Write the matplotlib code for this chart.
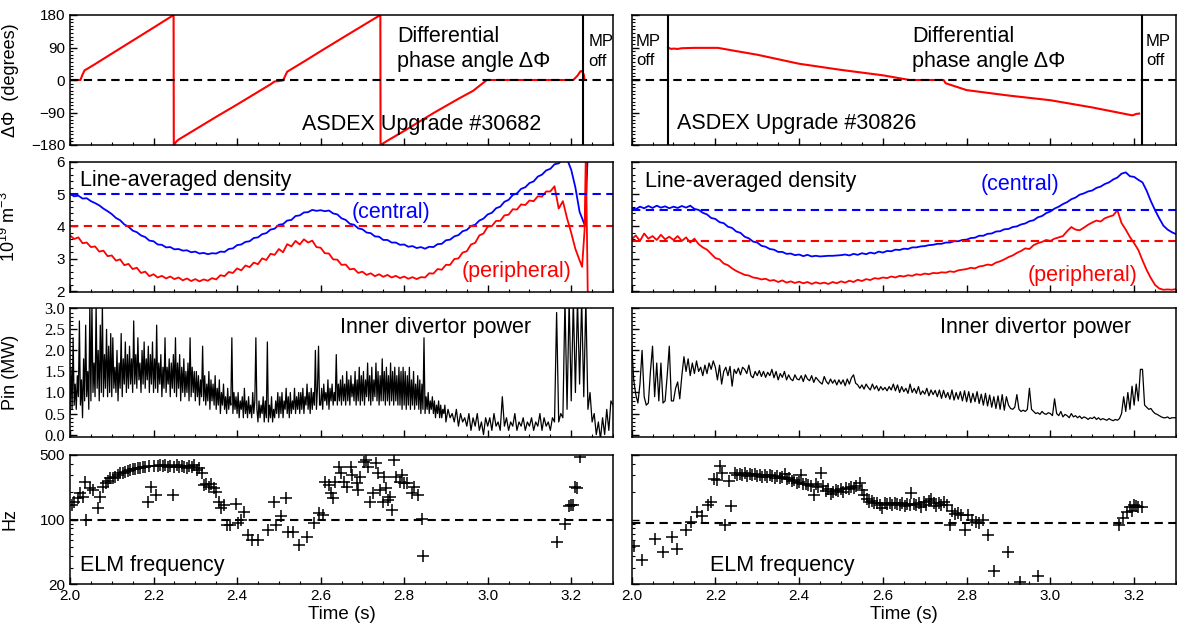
import numpy as np
import matplotlib
matplotlib.use('Agg')
import matplotlib.pyplot as plt
from matplotlib.ticker import MultipleLocator, LogLocator, NullFormatter, FixedLocator

plt.rcParams['font.family'] = ['Liberation Sans', 'DejaVu Sans']
plt.rcParams['mathtext.fontset'] = 'custom'
plt.rcParams['mathtext.rm'] = 'Liberation Sans'
plt.rcParams['xtick.direction'] = 'in'
plt.rcParams['ytick.direction'] = 'in'
plt.rcParams['axes.linewidth'] = 1.1

# ---- differential phase angle (degrees)
phase_l_t = [2.000, 2.025, 2.030, 2.035, 2.040, 2.060, 2.100, 2.150, 2.200, 2.248,
             2.2485, 2.255, 2.260, 2.300, 2.350, 2.400, 2.450, 2.480, 2.490, 2.500,
             2.510, 2.520, 2.560, 2.606, 2.650, 2.700, 2.743, 2.7435, 2.760, 2.800,
             2.871, 2.930, 2.965, 2.998, 3.100, 3.205, 3.215, 3.222, 3.226, 3.230,
             3.232]
phase_l_deg = [0, 0, 15, 27, 30, 44, 73, 109, 145, 180,
               -180, -170, -165, -137, -102, -68, -33, -12, -4, -3,
               -1, 23, 51, 84, 115, 150, 180, -180, -168, -141,
               -91, -52, -30, 0, 0, 0, 12, 24, 25, 15,
               0]
phase_r_t = [2.087, 2.090, 2.095, 2.100, 2.110, 2.120, 2.150, 2.206, 2.250, 2.300,
             2.400, 2.500, 2.600, 2.664, 2.700, 2.745, 2.750, 2.800, 2.900, 3.000,
             3.100, 3.196, 3.205, 3.212]
phase_r_deg = [90, 88, 86, 87, 86, 88, 89, 89, 80, 70,
               45, 28, 13, 0, 0, 0, -9, -28, -43, -56,
               -76, -98, -94, -93]
mp_off_l = [3.228]
mp_off_r = [2.087, 3.219]

# ---- line-averaged density (1e19 m^-3), 10 ms samples from 2.00 s
central_l = [5.00, 4.93, 4.95, 4.86, 4.87, 4.78, 4.72, 4.65, 4.55, 4.47,
             4.38, 4.26, 4.19, 4.06, 3.99, 3.87, 3.82, 3.72, 3.67, 3.56,
             3.54, 3.44, 3.43, 3.35, 3.36, 3.29, 3.30, 3.25, 3.26, 3.20,
             3.22, 3.16, 3.18, 3.14, 3.17, 3.16, 3.22, 3.21, 3.30, 3.32,
             3.42, 3.44, 3.52, 3.54, 3.64, 3.66, 3.76, 3.79, 3.90, 3.93,
             4.05, 4.07, 4.18, 4.20, 4.32, 4.34, 4.43, 4.44, 4.51, 4.48,
             4.50, 4.47, 4.49, 4.40, 4.37, 4.25, 4.20, 4.08, 4.05, 3.94,
             3.91, 3.81, 3.79, 3.69, 3.68, 3.58, 3.58, 3.50, 3.50, 3.43,
             3.44, 3.37, 3.39, 3.33, 3.36, 3.31, 3.37, 3.36, 3.45, 3.46,
             3.57, 3.59, 3.69, 3.73, 3.85, 3.89, 4.01, 4.05, 4.18, 4.24,
             4.37, 4.42, 4.56, 4.61, 4.76, 4.82, 4.97, 5.02, 5.16, 5.21,
             5.34, 5.39, 5.54, 5.60, 5.73, 5.78, 5.92, 5.95, 6.07, 6.08]
central_l_tail_t = [3.20, 3.21, 3.22, 3.233, 3.240]
central_l_tail = [5.75, 5.20, 4.45, 4.02, 6.40]

peripheral_l = [3.72, 3.61, 3.66, 3.48, 3.50, 3.36, 3.38, 3.22, 3.25, 3.08,
                3.10, 2.94, 2.98, 2.80, 2.84, 2.68, 2.72, 2.56, 2.60, 2.46,
                2.52, 2.42, 2.47, 2.39, 2.45, 2.37, 2.42, 2.33, 2.39, 2.31,
                2.37, 2.30, 2.36, 2.32, 2.40, 2.36, 2.49, 2.46, 2.59, 2.56,
                2.70, 2.64, 2.79, 2.74, 2.88, 2.83, 3.01, 2.96, 3.15, 3.12,
                3.30, 3.20, 3.45, 3.38, 3.55, 3.44, 3.60, 3.50, 3.56, 3.36,
                3.34, 3.17, 3.16, 2.98, 2.97, 2.81, 2.82, 2.67, 2.69, 2.56,
                2.60, 2.50, 2.55, 2.46, 2.52, 2.44, 2.50, 2.42, 2.47, 2.40,
                2.45, 2.38, 2.43, 2.37, 2.43, 2.42, 2.55, 2.54, 2.68, 2.66,
                2.81, 2.81, 2.99, 3.01, 3.19, 3.23, 3.44, 3.49, 3.72, 3.78,
                3.99, 4.01, 4.17, 4.17, 4.34, 4.36, 4.53, 4.52, 4.68, 4.66,
                4.80, 4.78, 4.93, 4.92, 5.08, 5.08, 5.24, 4.55, 4.78, 4.25]
peripheral_l_tail_t = [3.20, 3.21, 3.22, 3.226, 3.232, 3.235, 3.240]
peripheral_l_tail = [3.80, 3.30, 2.95, 2.75, 3.90, 6.30, 1.50]

central_r = [4.57, 4.53, 4.61, 4.56, 4.63, 4.57, 4.64, 4.58, 4.62, 4.56,
             4.61, 4.57, 4.63, 4.58, 4.64, 4.54, 4.51, 4.42, 4.37, 4.26,
             4.23, 4.13, 4.10, 3.99, 3.95, 3.84, 3.80, 3.68, 3.63, 3.53,
             3.50, 3.40, 3.37, 3.30, 3.28, 3.21, 3.21, 3.15, 3.16, 3.11,
             3.13, 3.08, 3.12, 3.07, 3.09, 3.07, 3.08, 3.09, 3.09, 3.10,
             3.11, 3.13, 3.10, 3.15, 3.12, 3.17, 3.14, 3.19, 3.16, 3.22,
             3.19, 3.24, 3.23, 3.28, 3.27, 3.31, 3.30, 3.35, 3.35, 3.38,
             3.39, 3.42, 3.43, 3.46, 3.46, 3.50, 3.50, 3.54, 3.54, 3.58,
             3.59, 3.64, 3.65, 3.71, 3.71, 3.77, 3.78, 3.84, 3.85, 3.91,
             3.92, 3.98, 4.00, 4.06, 4.09, 4.16, 4.19, 4.28, 4.32, 4.41,
             4.46, 4.55, 4.61, 4.69, 4.75, 4.84, 4.89, 4.98, 5.02, 5.08,
             5.11, 5.19, 5.23, 5.31, 5.36, 5.45, 5.51, 5.63, 5.67, 5.55,
             5.53, 5.44, 5.36, 5.10, 4.78, 4.50, 4.25, 4.02, 3.90, 3.82,
             3.76]
peripheral_r = [3.60, 3.72, 3.55, 3.78, 3.62, 3.70, 3.58, 3.74, 3.60, 3.68,
                3.58, 3.70, 3.55, 3.66, 3.50, 3.62, 3.45, 3.35, 3.28, 3.15,
                3.02, 2.98, 2.85, 2.80, 2.70, 2.62, 2.56, 2.50, 2.48, 2.42,
                2.40, 2.36, 2.38, 2.32, 2.34, 2.28, 2.33, 2.26, 2.30, 2.25,
                2.29, 2.24, 2.28, 2.22, 2.27, 2.23, 2.26, 2.22, 2.28, 2.24,
                2.30, 2.26, 2.32, 2.28, 2.35, 2.31, 2.37, 2.34, 2.40, 2.38,
                2.42, 2.40, 2.45, 2.42, 2.47, 2.45, 2.49, 2.47, 2.52, 2.50,
                2.54, 2.52, 2.56, 2.55, 2.58, 2.57, 2.61, 2.59, 2.64, 2.66,
                2.68, 2.72, 2.70, 2.76, 2.78, 2.82, 2.80, 2.88, 2.92, 2.98,
                3.05, 3.10, 3.18, 3.24, 3.32, 3.30, 3.42, 3.48, 3.52, 3.58,
                3.55, 3.62, 3.66, 3.70, 3.85, 3.98, 3.90, 3.88, 3.96, 4.05,
                4.12, 4.18, 4.15, 4.25, 4.30, 4.34, 4.50, 4.10, 3.90, 3.67,
                3.48, 3.27, 2.95, 2.65, 2.40, 2.19, 2.08, 2.04, 2.05, 2.04,
                2.06]
central_ref_l, peripheral_ref_l = 5.0, 4.0
central_ref_r, peripheral_ref_r = 4.52, 3.55

# ---- inner divertor power (MW)
# shot 30682: 2.5 ms samples 2.000-2.8975 s, then 5 ms samples 2.900-3.300 s
power_l_early = [
    0.5, 1.6, 0.6, 2.3, 0.7, 1.2, 0.6, 1.4, 0.9, 2.7, 0.7, 1.3, 0.4, 1.8, 0.8, 2.6, 0.9, 1.5, 0.6, 3.1,
    0.8, 3.1, 1.0, 1.7, 0.9, 3.1, 1.1, 2.0, 0.8, 2.6, 1.0, 3.1, 0.9, 1.9, 1.1, 2.5, 0.9, 2.1, 1.0, 2.4,
    0.9, 2.3, 1.1, 1.6, 1.0, 2.0, 0.8, 1.7, 1.1, 2.4, 0.9, 1.8, 1.2, 2.2, 1.0, 1.9, 1.1, 2.1, 1.2, 1.8,
    1.0, 2.7, 1.2, 1.9, 1.1, 2.3, 1.3, 1.7, 1.0, 2.0, 1.2, 2.2, 1.1, 1.8, 1.3, 2.1, 1.0, 1.9, 1.2, 2.2,
    1.0, 1.8, 1.1, 2.6, 1.0, 1.7, 1.2, 1.9, 0.9, 1.6, 1.1, 2.3, 1.0, 1.6, 1.2, 1.8, 0.9, 1.7, 1.1, 1.9,
    1.0, 2.3, 0.9, 1.7, 1.1, 1.9, 0.8, 1.6, 1.0, 1.8, 0.9, 1.5, 1.0, 1.7, 0.8, 2.3, 0.9, 1.6, 1.0, 1.5,
    0.8, 1.5, 0.9, 1.4, 0.7, 1.3, 0.9, 2.1, 0.8, 1.4, 0.7, 1.2, 0.8, 1.5, 0.6, 1.3, 0.8, 1.2, 0.7, 1.4,
    0.6, 1.1, 0.7, 1.3, 0.5, 1.0, 0.7, 1.2, 0.6, 0.9, 0.5, 1.1, 0.6, 0.9, 0.7, 2.3, 0.5, 1.0, 0.6, 0.9,
    0.5, 1.0, 0.4, 0.8, 0.6, 0.9, 0.4, 1.1, 0.5, 0.8, 0.4, 0.9, 0.5, 0.7, 0.4, 1.0, 0.5, 0.8, 2.3, 0.6,
    0.3, 0.8, 0.4, 0.7, 0.5, 0.9, 0.3, 0.8, 0.4, 2.2, 0.3, 0.7, 0.4, 0.9, 0.3, 0.6, 0.4, 0.8, 0.5, 1.0,
    0.4, 0.9, 0.5, 1.0, 0.4, 0.8, 0.6, 1.1, 0.5, 0.9, 0.4, 1.0, 0.5, 0.8, 0.6, 1.1, 0.5, 0.9, 0.6, 1.0,
    0.5, 1.0, 0.6, 1.1, 0.5, 0.9, 0.7, 1.2, 0.6, 1.0, 0.5, 1.1, 0.6, 1.0, 0.7, 2.0, 0.6, 1.1, 2.1, 0.7,
    0.7, 1.1, 0.6, 1.2, 0.8, 1.0, 0.7, 1.3, 0.6, 1.1, 0.8, 1.2, 0.7, 1.0, 0.8, 1.9, 0.7, 1.2, 0.8, 1.3,
    0.7, 1.4, 0.8, 1.2, 0.7, 1.5, 0.8, 1.3, 0.7, 1.4, 0.9, 1.2, 0.8, 1.5, 0.7, 1.3, 0.8, 1.6, 0.7, 1.4,
    0.8, 1.5, 0.7, 1.3, 0.9, 1.7, 0.8, 1.4, 0.7, 1.6, 0.8, 1.3, 0.9, 1.7, 0.8, 1.5, 0.7, 1.4, 0.8, 1.8,
    0.8, 1.5, 0.7, 1.6, 0.8, 1.4, 0.7, 1.7, 0.8, 1.5, 0.7, 1.6, 0.8, 1.4, 0.7, 1.6, 0.7, 1.5, 0.6, 1.6,
    0.7, 1.5, 0.6, 1.4, 0.7, 1.6, 0.6, 1.3, 0.7, 1.5, 0.6, 1.2, 0.7, 1.4, 0.6, 1.3, 0.5, 1.2, 0.6, 2.3,
    0.5, 0.9, 0.6, 1.0, 0.5, 0.8, 0.6, 0.9, 0.5, 0.8, 0.4, 0.7, 0.5, 0.8, 0.4, 0.7, 0.4, 0.6, 0.5, 0.7]
power_l_late = [
    0.3, 0.6, 0.4, 0.5, 0.3, 0.6, 0.2, 0.5, 0.3, 0.4, 0.2, 0.5, 0.1, 0.4, 0.2, 0.5, 0.1, 0.3, 0.0, 0.4,
    0.2, 0.4, 0.1, 0.5, 0.2, 0.3, 0.1, 0.9, 0.2, 0.4, 0.1, 0.3, 0.2, 0.5, 0.1, 0.3, 0.2, 0.4, 0.1, 0.3,
    0.2, 0.4, 0.1, 0.3, 0.2, 0.5, 0.1, 0.4, 0.2, 0.3, 0.1, 0.4, 0.3, 2.9, 0.3, 0.5, 0.4, 3.2, 0.6, 3.2,
    0.8, 3.2, 1.0, 3.2, 1.2, 3.2, 0.9, 3.2, 0.6, 1.0, 0.3, 0.5, 0.0, 0.3, -0.1, 0.4, 0.0, 0.6, 0.1, 0.8,
    0.7]
# shot 30826: 5 ms samples 2.000-3.300 s
power_r = [2.2, 1.3, 0.95, 0.75, 1.2, 2.0, 0.9, 0.7, 0.75, 1.5, 2.1, 0.9, 1.7, 0.8, 1.7, 0.75, 0.8, 1.4, 2.1, 0.8,
           0.8, 1.1, 1.25, 0.85, 1.4, 1.85, 1.5, 1.8, 1.4, 1.7, 1.45, 1.75, 1.5, 1.6, 1.4, 1.65, 1.45, 1.7, 1.55, 1.75,
           1.6, 1.3, 1.65, 1.2, 1.5, 1.6, 1.4, 1.62, 1.15, 1.55, 1.45, 1.58, 1.42, 1.6, 1.55, 1.45, 1.65, 1.4, 1.35, 1.5,
           1.4, 1.52, 1.38, 1.5, 1.36, 1.48, 1.4, 1.55, 1.35, 1.5, 1.3, 1.45, 1.36, 1.5, 1.3, 1.42, 1.32, 1.28, 1.42, 1.32,
           1.3, 1.4, 1.26, 1.42, 1.32, 1.28, 1.4, 1.24, 1.36, 1.3, 1.24, 1.2, 1.38, 1.26, 1.2, 1.32, 1.22, 1.3, 1.18, 1.3,
           1.2, 1.3, 1.16, 1.32, 1.2, 1.35, 1.42, 1.22, 1.18, 1.1, 1.18, 1.08, 1.2, 1.12, 1.06, 1.2, 1.08, 1.16, 1.04, 1.14,
           1.06, 1.12, 1.04, 1.14, 1.06, 1.2, 1.04, 1.18, 1.0, 1.14, 1.02, 1.1, 0.98, 1.2, 1.0, 1.1, 0.98, 1.14, 0.95, 1.04,
           0.96, 1.1, 0.92, 1.06, 0.95, 1.05, 0.9, 1.06, 0.86, 1.05, 0.88, 1.0, 0.84, 1.06, 0.82, 1.0, 0.84, 1.02, 0.8, 1.04,
           0.78, 1.02, 0.76, 0.98, 0.78, 1.02, 0.74, 0.96, 0.7, 0.98, 0.68, 0.94, 0.65, 0.9, 0.62, 0.92, 0.6, 0.95, 0.58, 0.9,
           0.7, 0.62, 0.6, 0.65, 0.95, 0.6, 0.55, 0.58, 0.55, 0.6, 1.1, 0.6, 0.55, 0.5, 0.52, 0.48, 0.55, 0.5, 0.48, 0.52,
           0.5, 0.45, 0.85, 0.5, 0.45, 0.55, 0.42, 0.48, 0.45, 0.4, 0.5, 0.42, 0.45, 0.4, 0.44, 0.38, 0.42, 0.4, 0.36, 0.4,
           0.38, 0.42, 0.36, 0.4, 0.35, 0.38, 0.36, 0.34, 0.38, 0.35, 0.33, 0.36, 0.34, 0.38, 0.5, 0.9, 0.55, 1.0, 0.6, 1.15,
           0.7, 1.2, 0.8, 1.55, 1.55, 0.7, 0.65, 0.6, 0.62, 0.55, 0.5, 0.48, 0.45, 0.42, 0.4, 0.4, 0.42, 0.38, 0.4, 0.4,
           0.4]

# ---- ELM frequency (Hz)
elm_l_t = [2.005, 2.010, 2.018, 2.025, 2.030, 2.035, 2.038, 2.048, 2.055, 2.066,
           2.072, 2.078, 2.085, 2.090, 2.096, 2.102, 2.108, 2.115, 2.120, 2.126,
           2.132, 2.138, 2.144, 2.150, 2.156, 2.162, 2.168, 2.174, 2.180, 2.186,
           2.190, 2.195, 2.200, 2.205, 2.210, 2.216, 2.222, 2.228, 2.234, 2.240,
           2.246, 2.250, 2.256, 2.262, 2.268, 2.274, 2.280, 2.286, 2.292, 2.298,
           2.304, 2.310, 2.316, 2.320, 2.326, 2.332, 2.338, 2.344, 2.350, 2.356,
           2.362, 2.368, 2.375, 2.384, 2.398, 2.403, 2.410, 2.417, 2.425, 2.436,
           2.450, 2.474, 2.488, 2.492, 2.504, 2.516, 2.521, 2.535, 2.549, 2.568,
           2.584, 2.596, 2.606, 2.610, 2.620, 2.625, 2.630, 2.634, 2.643, 2.648,
           2.657, 2.662, 2.672, 2.676, 2.686, 2.690, 2.695, 2.705, 2.709, 2.714,
           2.719, 2.726, 2.733, 2.738, 2.742, 2.749, 2.752, 2.757, 2.761, 2.766,
           2.771, 2.775, 2.780, 2.790, 2.794, 2.799, 2.808, 2.818, 2.823, 2.832,
           2.842, 2.846, 3.165, 3.185, 3.195, 3.200, 3.210, 3.215, 3.220, 3.205]
elm_l_hz = [143, 156, 170, 192, 175, 257, 98, 218, 209, 132,
            177, 227, 246, 262, 279, 285, 291, 305, 316, 322,
            330, 338, 344, 350, 355, 359, 365, 368, 374, 156,
            378, 227, 383, 184, 380, 389, 376, 385, 372, 380,
            184, 374, 385, 368, 380, 372, 359, 378, 374, 389,
            344, 360, 316, 237, 245, 227, 240, 218, 200, 156,
            132, 143, 87, 87, 149, 91, 98, 122, 68, 60,
            60, 77, 156, 87, 109, 170, 74, 74, 53, 65,
            91, 117, 112, 257, 237, 192, 170, 257, 374, 316,
            257, 227, 374, 304, 246, 209, 291, 424, 441, 374,
            156, 192, 406, 316, 209, 156, 291, 218, 163, 177,
            127, 441, 291, 257, 304, 246, 246, 192, 227, 184,
            102, 40, 57, 90, 140, 145, 225, 220, 470, 142]
elm_r_t = [2.006, 2.026, 2.055, 2.074, 2.096, 2.109, 2.131, 2.143, 2.155, 2.169,
           2.182, 2.190, 2.197, 2.204, 2.210, 2.215, 2.222, 2.233, 2.238, 2.246,
           2.252, 2.258, 2.264, 2.270, 2.276, 2.282, 2.288, 2.294, 2.300, 2.306,
           2.312, 2.318, 2.324, 2.330, 2.336, 2.342, 2.348, 2.354, 2.360, 2.366,
           2.370, 2.376, 2.382, 2.388, 2.394, 2.400, 2.404, 2.410, 2.416, 2.422,
           2.428, 2.435, 2.440, 2.446, 2.452, 2.458, 2.464, 2.470, 2.476, 2.482,
           2.488, 2.494, 2.500, 2.506, 2.512, 2.518, 2.524, 2.530, 2.536, 2.545,
           2.550, 2.556, 2.562, 2.568, 2.574, 2.580, 2.586, 2.592, 2.598, 2.604,
           2.610, 2.616, 2.622, 2.628, 2.634, 2.640, 2.646, 2.652, 2.658, 2.664,
           2.668, 2.674, 2.680, 2.686, 2.692, 2.698, 2.704, 2.710, 2.716, 2.722,
           2.728, 2.734, 2.740, 2.747, 2.752, 2.760, 2.766, 2.773, 2.780, 2.787,
           2.795, 2.804, 2.812, 2.822, 2.830, 2.839, 2.852, 2.866, 2.900, 2.927,
           2.971, 3.165, 3.174, 3.182, 3.191, 3.200, 3.210, 3.218, 3.195, 3.205]
elm_r_hz = [52, 36, 61, 45, 64, 48, 76, 95, 122, 109,
            144, 156, 274, 268, 380, 322, 87, 264, 140, 316,
            300, 315, 305, 320, 298, 310, 302, 315, 296, 305,
            292, 300, 288, 302, 295, 285, 298, 282, 290, 310,
            275, 285, 262, 270, 250, 255, 304, 245, 240, 235,
            230, 184, 240, 225, 316, 228, 205, 215, 190, 200,
            210, 205, 215, 200, 220, 212, 225, 218, 230, 246,
            210, 185, 165, 155, 160, 150, 152, 145, 132, 150,
            148, 152, 145, 150, 146, 143, 150, 140, 147, 145,
            192, 148, 142, 150, 138, 155, 145, 160, 166, 150,
            140, 152, 145, 156, 142, 87, 125, 116, 118, 112,
            77, 112, 100, 95, 91, 99, 68, 28, 44, 21,
            24.5, 87, 103, 122, 138, 144, 138, 135, 125, 140]
elm_ref_l, elm_ref_r = 100, 92

t10_l = 2.0 + 0.01 * np.arange(len(central_l))
t10_r = 2.0 + 0.01 * np.arange(len(central_r))
t_pl = np.r_[2.0 + 0.0025 * np.arange(len(power_l_early)), 2.9 + 0.005 * np.arange(len(power_l_late))]
t_pr = 2.0 + 0.005 * np.arange(len(power_r))

fig = plt.figure(figsize=(11.77, 6.33), dpi=100)
W, H = 1177.0, 633.0
cols = [(70, 613), (631.6, 1176)]
rows = [(15, 145), (161.7, 291.7), (308.3, 436.7), (455, 584)]
ax = [[fig.add_axes([x0 / W, 1 - y1 / H, (x1 - x0) / W, (y1 - y0) / H]) for (x0, x1) in cols]
      for (y0, y1) in rows]

dash = (0, (4, 2.6))
big = 15.5

for i in range(4):
    for j in range(2):
        a = ax[i][j]
        a.set_xlim(2.0, 3.3)
        a.xaxis.set_major_locator(MultipleLocator(0.2))
        a.xaxis.set_minor_locator(MultipleLocator(0.05))
        a.tick_params(which='major', length=5, width=1, labelsize=11)
        a.tick_params(which='minor', length=2.5, width=0.8)
        a.tick_params(labelbottom=(i == 3), labelleft=(j == 0))

# row 1: phase
for j, (tt, dd, lines) in enumerate([(phase_l_t, phase_l_deg, mp_off_l), (phase_r_t, phase_r_deg, mp_off_r)]):
    a = ax[0][j]
    a.plot(tt, dd, color='red', lw=1.5)
    a.axhline(0, color='k', ls=dash, lw=1.5)
    for x in lines:
        a.axvline(x, color='k', lw=1.5)
    a.set_ylim(-180, 180)
    a.set_yticks([-180, -90, 0, 90, 180])
    a.yaxis.set_minor_locator(MultipleLocator(10))
ax[0][0].set_ylabel('ΔΦ  (degrees)', fontsize=13)
ax[0][0].text(0.602, 0.833, 'Differential', transform=ax[0][0].transAxes, fontsize=big, va='center')
ax[0][0].text(0.602, 0.641, 'phase angle ΔΦ', transform=ax[0][0].transAxes, fontsize=big, va='center')
ax[0][0].text(0.427, 0.154, 'ASDEX Upgrade #30682', transform=ax[0][0].transAxes, fontsize=big, va='center')
ax[0][0].text(0.955, 0.795, 'MP', transform=ax[0][0].transAxes, fontsize=12, va='center')
ax[0][0].text(0.955, 0.641, 'off', transform=ax[0][0].transAxes, fontsize=12, va='center')
ax[0][1].text(0.515, 0.833, 'Differential', transform=ax[0][1].transAxes, fontsize=big, va='center')
ax[0][1].text(0.515, 0.641, 'phase angle ΔΦ', transform=ax[0][1].transAxes, fontsize=big, va='center')
ax[0][1].text(0.083, 0.165, 'ASDEX Upgrade #30826', transform=ax[0][1].transAxes, fontsize=big, va='center')
for x0 in (0.008, 0.945):
    ax[0][1].text(x0, 0.795, 'MP', transform=ax[0][1].transAxes, fontsize=12, va='center')
    ax[0][1].text(x0, 0.650, 'off', transform=ax[0][1].transAxes, fontsize=12, va='center')

# row 2: density
a = ax[1][0]
a.plot(np.r_[t10_l, central_l_tail_t], central_l + central_l_tail, color='blue', lw=1.3)
a.plot(np.r_[t10_l, peripheral_l_tail_t], peripheral_l + peripheral_l_tail, color='red', lw=1.3)
a.axhline(central_ref_l, color='blue', ls=dash, lw=1.5)
a.axhline(peripheral_ref_l, color='red', ls=dash, lw=1.5)
a = ax[1][1]
a.plot(t10_r, central_r, color='blue', lw=1.3)
a.plot(t10_r, peripheral_r, color='red', lw=1.3)
a.axhline(central_ref_r, color='blue', ls=dash, lw=1.5)
a.axhline(peripheral_ref_r, color='red', ls=dash, lw=1.5)
for j in range(2):
    ax[1][j].set_ylim(1.98, 6.0)
    ax[1][j].set_yticks([2, 3, 4, 5, 6])
    ax[1][j].yaxis.set_minor_locator(MultipleLocator(0.2))
ax[1][0].set_ylabel(r'10$^{19}$ m$^{-3}$', fontsize=13)
ax[1][0].text(0.018, 0.852, 'Line-averaged density', transform=ax[1][0].transAxes, fontsize=big, va='center')
ax[1][0].text(0.519, 0.613, '(central)', transform=ax[1][0].transAxes, fontsize=big, va='center', color='blue')
ax[1][0].text(0.722, 0.152, '(peripheral)', transform=ax[1][0].transAxes, fontsize=big, va='center', color='red')
ax[1][1].text(0.025, 0.844, 'Line-averaged density', transform=ax[1][1].transAxes, fontsize=big, va='center')
ax[1][1].text(0.642, 0.828, '(central)', transform=ax[1][1].transAxes, fontsize=big, va='center', color='blue')
ax[1][1].text(0.728, 0.128, '(peripheral)', transform=ax[1][1].transAxes, fontsize=big, va='center', color='red')

# row 3: inner divertor power
ax[2][0].plot(t_pl, power_l_early + power_l_late, color='k', lw=0.9)
ax[2][1].plot(t_pr, power_r, color='k', lw=0.9)
for j in range(2):
    a = ax[2][j]
    a.set_ylim(-0.05, 3.0)
    a.set_yticks([0, 0.5, 1.0, 1.5, 2.0, 2.5, 3.0])
    a.yaxis.set_minor_locator(MultipleLocator(0.1))
    a.text(0.497 if j == 0 else 0.567, 0.85, 'Inner divertor power', transform=a.transAxes,
           fontsize=big, va='center')
ax[2][0].set_yticklabels(['0.0', '0.5', '1.0', '1.5', '2.0', '2.5', '3.0'],
                         fontfamily='Liberation Serif', fontsize=12)
ax[2][0].set_ylabel('Pin (MW)', fontsize=13)

# row 4: ELM frequency
for j, (tt, ff, ref) in enumerate([(elm_l_t, elm_l_hz, elm_ref_l), (elm_r_t, elm_r_hz, elm_ref_r)]):
    a = ax[3][j]
    a.set_yscale('log')
    a.plot(tt, ff, ls='none', marker='+', ms=8, mew=1.1, color='k')
    a.axhline(ref, color='k', ls=dash, lw=1.5)
    a.set_ylim(20, 500)
    a.yaxis.set_major_locator(FixedLocator([20, 100, 500]))
    a.yaxis.set_minor_locator(LogLocator(base=10, subs=np.arange(2, 10)))
    a.yaxis.set_minor_formatter(NullFormatter())
    a.set_xlabel('Time (s)', fontsize=13.5, labelpad=2)
    a.text(0.018 if j == 0 else 0.144, 0.147, 'ELM frequency', transform=a.transAxes,
           fontsize=big, va='center')
ax[3][0].set_yticklabels(['20', '100', '500'])
ax[3][0].set_ylabel('Hz', fontsize=13)

for a in (ax[0][0], ax[1][0], ax[2][0], ax[3][0]):
    a.yaxis.set_label_coords(-0.094, 0.5)

fig.savefig('out.png', dpi=100)
